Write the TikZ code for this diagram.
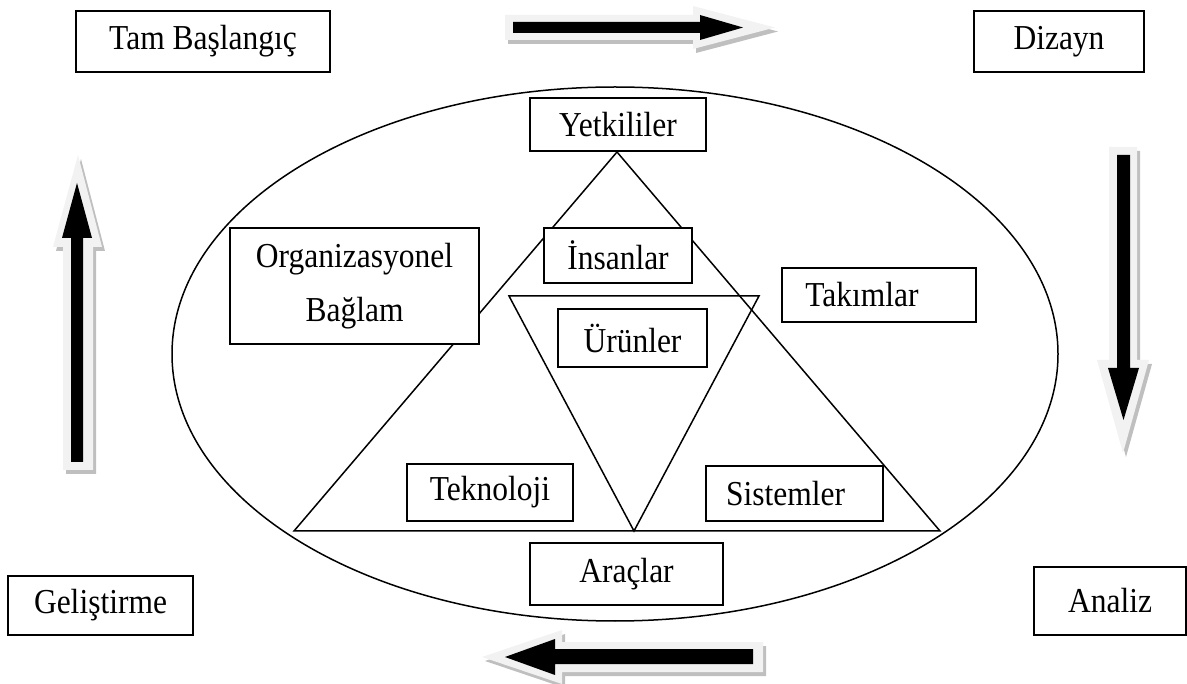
\documentclass[tikz,border=0pt]{standalone}
\usepackage{fontspec}
\setmainfont{Liberation Serif}[FakeStretch=0.9]
\begin{document}
\begin{tikzpicture}[x=1pt,y=-1pt,
  box/.style={draw, fill=white, line width=1.6pt, inner sep=0pt, font=\fontsize{35}{54}\selectfont},
  shapeline/.style={line width=1.5pt, line join=miter},
  arrshadow/.style={fill=black!25},
  arrbody/.style={fill=black!5},
  arrcore/.style={fill=black}]
\useasboundingbox (0,0) rectangle (1187,684);
% ellipse
\draw[shapeline] (615,354) ellipse [x radius=443, y radius=267];
% triangles
\coordinate (apex) at (617,152);
\coordinate (bl) at (294,531);
\coordinate (br) at (940,531);
\coordinate (itl) at (509,296);
\coordinate (itr) at (759,296);
\coordinate (ibot) at (634,531);
\draw[shapeline] (apex) -- (bl) -- (br) -- cycle;
\draw[shapeline] (itl) -- (itr) -- (ibot) -- cycle;
% boxes
\node[box, minimum width=254pt, minimum height=61pt] (tam) at (203,41.5) {Tam Başlangıç};
\node[box, minimum width=170pt, minimum height=61pt] (diz) at (1059,41.5) {Dizayn};
\node[box, minimum width=185pt, minimum height=59pt] (gel) at (100.5,605.5) {Geliştirme};
\node[box, minimum width=152pt, minimum height=68pt] (ana) at (1110,601) {Analiz};
\node[box, minimum width=176pt, minimum height=53pt] (yet) at (618,124.5) {Yetkililer};
\node[box, minimum width=249pt, minimum height=116pt, align=center] (org) at (354.5,286) {Organizasyonel\\Bağlam};
\node[box, minimum width=148pt, minimum height=55pt] (ins) at (618,255.5) {İnsanlar};
\node[box, minimum width=194pt, minimum height=54pt] (tak) at (879,295) {Takımlar\hspace*{34pt}};
\node[box, minimum width=149pt, minimum height=58pt] (uru) at (632.5,338) {Ürünler};
\node[box, minimum width=166pt, minimum height=57pt] (tek) at (490,492.5) {Teknoloji};
\node[box, minimum width=177pt, minimum height=55pt] (sis) at (794.5,493.5) {Sistemler\hspace*{18pt}};
\node[box, minimum width=193pt, minimum height=62pt] (ara) at (626.5,574) {Araçlar};
% top arrow (right)
\begin{scope}[shift={(3,4)}]
\fill[arrshadow] (505,15) -- (693,15) -- (693,6) -- (775,27.5) -- (693,49) -- (693,40) -- (505,40) -- cycle;
\end{scope}
\fill[arrbody] (505,15) -- (693,15) -- (693,6) -- (775,27.5) -- (693,49) -- (693,40) -- (505,40) -- cycle;
\fill[arrcore] (513,22) -- (700,22) -- (700,15) -- (743,27.5) -- (700,40) -- (700,33) -- (513,33) -- cycle;
% right arrow (down)
\begin{scope}[shift={(3,4)}]
\fill[arrshadow] (1109,147) -- (1137,147) -- (1137,360) -- (1149,360) -- (1123,453) -- (1097,360) -- (1109,360) -- cycle;
\end{scope}
\fill[arrbody] (1109,147) -- (1137,147) -- (1137,360) -- (1149,360) -- (1123,453) -- (1097,360) -- (1109,360) -- cycle;
\fill[arrcore] (1117,155) -- (1130,155) -- (1130,368) -- (1139,368) -- (1123.5,420) -- (1108,368) -- (1117,368) -- cycle;
% left arrow (up)
\begin{scope}[shift={(3,4)}]
\fill[arrshadow] (78,155) -- (102,247) -- (93,247) -- (93,470) -- (63,470) -- (63,247) -- (53,247) -- cycle;
\end{scope}
\fill[arrbody] (78,155) -- (102,247) -- (93,247) -- (93,470) -- (63,470) -- (63,247) -- (53,247) -- cycle;
\fill[arrcore] (77,183) -- (92,238) -- (83,238) -- (83,462) -- (71,462) -- (71,238) -- (62,238) -- cycle;
% bottom arrow (left)
\begin{scope}[shift={(3,4)}]
\fill[arrshadow] (482,657) -- (562,630) -- (562,642) -- (763,642) -- (763,672) -- (562,672) -- (562,684) -- cycle;
\end{scope}
\fill[arrbody] (482,657) -- (562,630) -- (562,642) -- (763,642) -- (763,672) -- (562,672) -- (562,684) -- cycle;
\fill[arrcore] (505,657) -- (555,639) -- (555,649) -- (753,649) -- (753,664) -- (555,664) -- (555,675) -- cycle;
\end{tikzpicture}
\end{document}
